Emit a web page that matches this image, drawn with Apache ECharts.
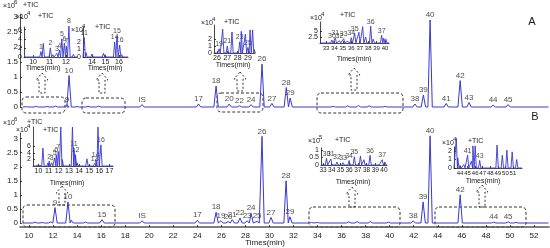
<!DOCTYPE html>
<html>
<head>
<meta charset="utf-8">
<script src="https://cdn.jsdelivr.net/npm/echarts@6/dist/echarts.min.js"></script>
<style>html,body{margin:0;padding:0;background:#fff}#chart{width:550px;height:248px}</style>
</head>
<body>
<div id="chart"></div>
<script>
// peaks: [retention time (min), height (axis units), peak label]
var peaksA = [
  [9.8, 0.01, ''], [10.6, 0.02, ''], [11.5, 0.015, ''], [12.2, 0.03, ''],
  [13.15, 0.08, '9'], [13.33, 1.05, '10'],
  [14.0, 0.01, ''], [14.9, 0.02, ''], [15.8, 0.03, ''], [16.0, 0.02, ''],
  [19.4, 0.08, 'IS'], [24.1, 0.1, '17'], [25.56, 0.7, '18'],
  [26.65, 0.1, '20'], [27.5, 0.04, '22'], [28.47, 0.08, '24'], [29.38, 1.43, '26'],
  [30.2, 0.12, '27'], [31.4, 0.65, '28'], [31.72, 0.3, '29'],
  [35.3, 0.02, ''], [36.5, 0.04, ''], [37.4, 0.05, ''], [38.3, 0.04, ''], [39.6, 0.02, ''],
  [42.1, 0.1, '38'], [42.8, 0.4, '39'], [43.36, 2.9, '40'], [44.7, 0.12, '41'],
  [45.86, 0.88, '42'], [46.6, 0.15, '43'], [48.6, 0.06, '44'], [49.85, 0.08, '45']
];
var peaksB = [
  [10.5, 0.03, ''], [11.1, 0.02, ''], [11.8, 0.04, ''],
  [12.16, 0.55, '9'], [13.24, 0.75, '10'], [13.5, 0.1, ''], [14.7, 0.03, ''],
  [16.07, 0.12, '15'], [16.3, 0.04, ''], [19.4, 0.08, 'IS'], [24.0, 0.1, '17'],
  [25.56, 0.38, '18'], [25.97, 0.08, '19'], [26.56, 0.05, '20'], [26.9, 0.12, '21'],
  [27.55, 0.18, '22'], [28.14, 0.08, '23'], [28.47, 0.35, '24'], [28.97, 0.06, '25'],
  [29.38, 3.08, '26'], [30.13, 0.2, '27'], [31.38, 1.5, '28'], [31.7, 0.22, '29'],
  [33.5, 0.02, ''], [34.0, 0.02, ''], [36.6, 0.04, ''], [37.3, 0.05, ''], [38.4, 0.05, ''], [39.9, 0.03, ''],
  [41.95, 0.08, '38'], [42.78, 0.75, '39'], [43.36, 3.1, '40'], [45.86, 1.0, '42'],
  [48.65, 0.03, '44'], [49.85, 0.04, '45'], [50.5, 0.02, '']
];
var peaksA1 = [
  [9.7, 0.3, ''], [10.2, 0.2, ''], [10.48, 1.2, '1'], [10.62, 3.0, ''], [11.05, 2.0, '2'], [11.2, 0.5, ''],
  [11.45, 0.8, '3'], [11.6, 1.5, '4'], [11.75, 4.0, '5'], [11.9, 3.0, '6'], [12.02, 2.4, '7'],
  [12.18, 6.8, '8'], [12.45, 0.6, '']
];
var peaksA2 = [
  [13.42, 2.6, '11'], [13.55, 0.6, ''], [14.0, 0.4, ''], [14.45, 0.2, ''], [14.85, 0.5, ''], [14.95, 0.3, ''],
  [15.68, 2.0, '14'], [15.85, 2.8, '15'], [16.05, 1.6, '16'], [16.2, 0.3, '']
];
var peaksA3 = [
  [26.2, 0.6, '19'], [26.55, 3.4, ''], [27.0, 1.0, '21'], [27.45, 3.0, ''], [28.2, 1.6, '23'], [28.35, 3.1, ''],
  [28.75, 2.7, ''], [29.0, 0.8, '25'], [29.2, 3.3, ''], [29.45, 3.3, ''], [29.6, 0.5, '']
];
var peaksA4 = [
  [33.0, 0.4, ''], [33.7, 1.2, '30'], [34.1, 2.2, '31'], [34.6, 0.9, '32'], [35.1, 1.8, '33'], [35.5, 0.7, ''],
  [36.0, 2.2, '34'], [36.4, 4.0, '35'], [36.9, 4.5, ''], [37.35, 6.8, ''], [37.7, 2.5, ''], [38.3, 7.0, '36'],
  [38.6, 1.6, ''], [39.3, 0.8, ''], [39.6, 3.2, '37'], [39.85, 2.0, ''], [40.1, 1.6, '']
];
var peaksB1 = [
  [9.6, 0.3, ''], [10.0, 0.3, ''], [10.44, 5.5, ''], [10.95, 1.0, ''], [11.05, 1.5, '2'], [11.3, 1.0, '3'],
  [11.6, 2.5, '5'], [11.75, 3.5, '6'], [11.95, 4.5, '7'], [12.2, 12, ''], [12.35, 2.0, ''],
  [13.35, 12, ''], [13.5, 5.5, '11'], [13.65, 3.5, '12'], [13.8, 1.0, ''], [14.78, 2.2, ''], [15.3, 0.3, ''],
  [15.55, 0.8, '13'], [15.65, 2.0, '14'], [15.87, 12, ''], [16.16, 6.5, '16'], [16.4, 0.5, '']
];
var peaksB2 = [
  [33.4, 0.45, '30'], [33.9, 0.4, '31'], [34.6, 0.2, '32'], [35.3, 0.15, '33'], [36.0, 0.3, '34'],
  [36.6, 0.55, '35'], [37.3, 0.6, ''], [37.7, 0.35, ''], [38.4, 0.65, '36'], [39.3, 0.1, ''],
  [39.8, 0.35, '37'], [40.1, 0.2, '']
];
var peaksB3 = [
  [43.5, 3.5, ''], [43.7, 1.2, ''], [44.0, 0.3, ''], [44.5, 0.4, ''], [45.0, 1.5, '41'], [45.5, 0.8, ''],
  [45.7, 2.6, ''], [46.0, 2.6, ''], [46.6, 0.9, '43'], [47.3, 0.2, ''], [48.9, 2.7, ''], [49.6, 1.5, ''],
  [50.2, 2.1, ''], [50.9, 1.9, ''], [51.5, 1.0, '']
];

// tick labels
var ticksMainX = [10, 12, 14, 16, 18, 20, 22, 24, 26, 28, 30, 32, 34, 36, 38, 40, 42, 44, 46, 48, 50, 52];
var ticksMainY = [0, 0.5, 1, 1.5, 2, 2.5, 3];
var ticksA1X = [10, 11, 12], ticksA1Y = [0, 2, 4, 6];
var ticksA2X = [14, 15, 16], ticksA2Y = [0, 1, 2];
var ticksA3X = [26, 27, 28, 29], ticksA3Y = [0, 1, 2];
var ticksA4X = [33, 34, 35, 36, 37, 38, 39, 40], ticksA4Y = [0, 2.5, 5, 7.5];
var ticksB1X = [10, 11, 12, 13, 14, 15, 16, 17], ticksB1Y = [0, 2, 4, 6, 8];
var ticksB2X = [33, 34, 35, 36, 37, 38, 39, 40], ticksB2Y = [0, 0.5, 1];
var ticksB3X = [44, 45, 46, 47, 48, 49, 50, 51], ticksB3Y = [0, 1, 2];

var BLUE = '#3838d2', INK = '#1a1a1a', FONT = "'Liberation Sans', Arial, sans-serif";

// panel layout (pixels) + axis extents; xfs = x tick label size for the crowded insets
var panels = [
  { l: 20, t: 14, w: 529, h: 93, x: [9.25, 53.25], y: [0, 3.1], run: [9.5, 53.2], tx: ticksMainX, ty: ticksMainY, peaks: peaksA, main: true, noX: true },
  { l: 20, t: 133, w: 529, h: 90, x: [9.25, 53.25], y: [0, 3.2], run: [9.5, 53.2], tx: ticksMainX, ty: ticksMainY, peaks: peaksB, main: true, xOff: 4 },
  { l: 24, t: 27, w: 53, h: 30, x: [9.45, 12.67], y: [0, 6.6], tx: ticksA1X, ty: ticksA1Y, peaks: peaksA1 },
  { l: 83, t: 27, w: 45, h: 30, x: [13.33, 16.67], y: [0, 4], tx: ticksA2X, ty: ticksA2Y, peaks: peaksA2 },
  { l: 214, t: 25, w: 41, h: 28, x: [25.71, 29.68], y: [0, 4], tx: ticksA3X, ty: ticksA3Y, peaks: peaksA3 },
  { l: 320, t: 22, w: 69, h: 21, x: [32.29, 40.47], y: [0, 8.75], tx: ticksA4X, ty: ticksA4Y, peaks: peaksA4, xfs: 6 },
  { l: 33, t: 127, w: 80, h: 39, x: [9.46, 17.35], y: [0, 12], tx: ticksB1X, ty: ticksB1Y, peaks: peaksB1 },
  { l: 321, t: 148, w: 66, h: 17, x: [32.77, 40.35], y: [0, 1.13], tx: ticksB2X, ty: ticksB2Y, peaks: peaksB2, xfs: 6.5 },
  { l: 454, t: 147, w: 68, h: 21, x: [43.2, 52.2], y: [0, 2.47], tx: ticksB3X, ty: ticksB3Y, peaks: peaksB3, xfs: 6 }
];

function trace(peaks, x0, x1, hw) {
  var d = [[x0, 0]];
  peaks.slice().sort(function (a, b) { return a[0] - b[0]; }).forEach(function (p) {
    d.push([p[0] - hw, 0], [p[0], p[1]], [p[0] + hw, 0]);
  });
  d.push([x1, 0]);
  return d;
}

var grids = [], xAxes = [], yAxes = [], series = [];
panels.forEach(function (g, i) {
  var fs = g.main ? 8 : 7;
  grids.push({ left: g.l, top: g.t, width: g.w, height: g.h });
  xAxes.push({
    gridIndex: i, type: 'value', min: g.x[0], max: g.x[1], show: !g.noX, offset: g.xOff || 0,
    splitLine: { show: false },
    axisLine: { onZero: false, lineStyle: { color: g.main ? '#555' : INK, width: g.main ? 1.6 : 0.8 } },
    axisTick: { inside: true, length: 2, customValues: g.tx, lineStyle: { color: INK, width: 0.8 } },
    axisLabel: { customValues: g.tx, fontSize: g.xfs || fs, margin: g.main ? 5 : 2, color: INK, fontFamily: FONT,
      hideOverlap: false, showMinLabel: true, showMaxLabel: true }
  });
  yAxes.push({
    gridIndex: i, type: 'value', min: g.y[0], max: g.y[1],
    splitLine: { show: false },
    axisLine: { show: true, onZero: false, lineStyle: { color: INK, width: 0.8 } },
    axisTick: { inside: true, length: 2, customValues: g.ty, lineStyle: { color: INK, width: 0.8 } },
    axisLabel: { customValues: g.ty, fontSize: fs, margin: 2, color: INK, fontFamily: FONT }
  });
  var hw = (g.main ? 2.2 : 1.2) * (g.x[1] - g.x[0]) / g.w;
  var run = g.run || g.x;
  series.push({
    type: 'line', xAxisIndex: i, yAxisIndex: i, data: trace(g.peaks, run[0], run[1], hw),
    symbol: 'none', clip: false, silent: true, animation: false,
    lineStyle: { color: BLUE, width: g.main ? 1 : 0.9 }
  });
  series.push({
    type: 'scatter', xAxisIndex: i, yAxisIndex: i, symbolSize: 0.1, clip: false, silent: true, animation: false,
    itemStyle: { color: 'rgba(0,0,0,0)' },
    data: g.peaks.filter(function (p) { return p[2]; }).map(function (p) { return { name: p[2], value: [p[0], p[1]] }; }),
    label: { show: true, position: 'top', distance: 1, formatter: '{b}', fontSize: g.main ? 8 : 7, color: INK, fontFamily: FONT }
  });
});

// annotations: dashed zoom boxes, dashed arrows, exponent / TIC texts
var boxes = [[22, 97, 43, 16], [82, 98, 43, 15], [217, 93, 46, 19], [317, 93, 86, 20],
             [23, 205, 92, 22], [309, 207, 91, 20], [435, 207, 91, 20]];
var arrows = [[42, 73, 93], [102, 73, 93], [240, 72, 91], [354, 68, 90],
              [62, 186, 205], [352, 187, 207], [482, 185, 207]];
var texts = [
  [3, 6, '×10', 7], [14, 2, '6', 6], [23, 5, '+TIC', 7],
  [3, 123, '×10', 7], [14, 119, '6', 6], [27, 122, '+TIC', 7],
  [16, 17, '×10', 7], [27, 13, '4', 6], [38, 16, '+TIC', 7],
  [71, 30, '×10', 7], [82, 26, '4', 6], [95, 27, '+TIC', 7],
  [201, 23, '×10', 7], [212, 19, '4', 6], [224, 22, '+TIC', 7],
  [310, 18, '×10', 7], [321, 14, '4', 6], [340, 15, '+TIC', 7],
  [16, 130, '×10', 7], [27, 126, '4', 6], [43, 130, '+TIC', 7],
  [308, 141, '×10', 7], [319, 137, '5', 6], [335, 140, '+TIC', 7],
  [442, 143, '×10', 7], [453, 139, '4', 6], [468, 141, '+TIC', 7]
];
var centered = [
  [43, 68, 'Times(min)', 7], [105, 68, 'Times(min)', 7], [233, 65, 'Times(min)', 7], [354, 59, 'Times(min)', 7],
  [67, 183, 'Times(min)', 7], [353, 182, 'Times(min)', 7], [483, 181, 'Times(min)', 7],
  [265, 243, 'Times(min)', 8], [532, 22, 'A', 11], [535, 117, 'B', 11]
];

var graphic = [];
boxes.forEach(function (b) {
  graphic.push({ type: 'rect', silent: true, shape: { x: b[0], y: b[1], width: b[2], height: b[3], r: 4 },
    style: { fill: 'none', stroke: '#333', lineWidth: 1, lineDash: [3, 2] } });
});
arrows.forEach(function (a) {
  var cx = a[0], ty = a[1], by = a[2];
  graphic.push({ type: 'polygon', silent: true,
    shape: { points: [[cx, ty], [cx + 6, ty + 7], [cx + 3, ty + 7], [cx + 3, by], [cx - 3, by], [cx - 3, ty + 7], [cx - 6, ty + 7]] },
    style: { fill: 'none', stroke: '#333', lineWidth: 1, lineDash: [2, 2] } });
});
texts.forEach(function (t) {
  graphic.push({ type: 'text', silent: true, x: t[0], y: t[1],
    style: { text: t[2], fontSize: t[3], fill: INK, fontFamily: FONT, align: 'left', verticalAlign: 'middle' } });
});
centered.forEach(function (t) {
  graphic.push({ type: 'text', silent: true, x: t[0], y: t[1],
    style: { text: t[2], fontSize: t[3], fill: INK, fontFamily: FONT, align: 'center', verticalAlign: 'middle' } });
});

var chart = echarts.init(document.getElementById('chart'), null, { renderer: 'canvas' });
chart.setOption({
  animation: false,
  backgroundColor: '#fff',
  grid: grids, xAxis: xAxes, yAxis: yAxes, series: series, graphic: graphic
});
</script>
</body>
</html>
